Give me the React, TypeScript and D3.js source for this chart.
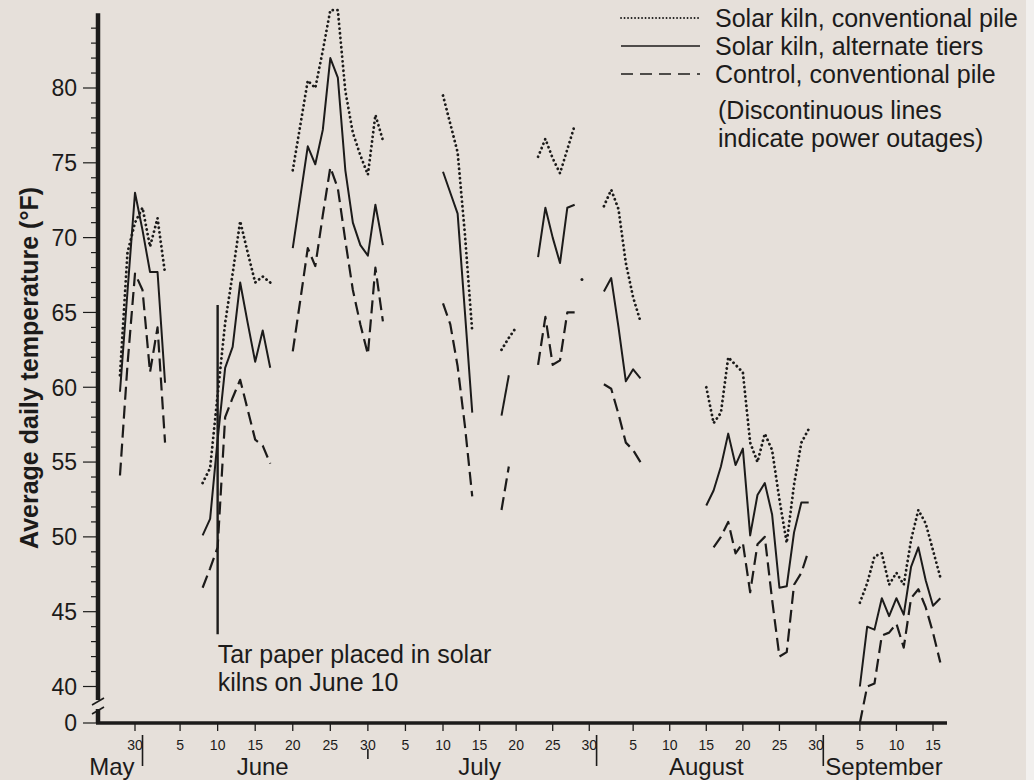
import React from 'react';
import * as d3 from 'd3';

const YEAR = 1979;

// each run = [first day "MM-DD", one value per day]; a new run starts after a power outage
const convPile: [string, number[]][] = [
    ['05-28', [60.8, 69.0, 71.0, 72.0, 69.4, 71.3, 67.6]],
    ['06-08', [53.6, 54.6, 59.5, 64.3, 67.6, 71.1, 69.0, 67.0, 67.4, 67.0]],
    ['06-20', [74.5, 77.5, 80.5, 80.0, 82.5, 85.2, 85.2, 79.8, 77.0, 75.5, 74.2, 78.2, 76.5]],
    ['07-10', [79.5, 77.6, 75.7, 70.2, 63.7]],
    ['07-18', [62.5, 63.3, 64.0]],
    ['07-23', [75.4, 76.6, 75.3, 74.3, 75.9, 77.5]],
    ['07-29', [67.2]],
    ['08-01', [72.1, 73.2, 71.9, 68.3, 66.0, 64.4]],
    ['08-15', [60.0, 57.6, 58.3, 62.0, 61.5, 61.0, 56.3, 55.0, 56.9, 55.8, 52.5, 49.6, 53.5, 56.3, 57.2]],
    ['09-05', [45.6, 46.9, 48.7, 48.9, 46.8, 47.6, 46.8, 49.8, 51.8, 50.9, 49.1, 47.3]],
];

const altTiers: [string, number[]][] = [
    ['05-28', [59.7, 66.4, 73.0, 70.5, 67.7, 67.7, 60.3]],
    ['06-08', [50.1, 51.2, 56.5, 61.3, 62.7, 67.0, 64.3, 61.7, 63.8, 61.3]],
    ['06-20', [69.3, 72.7, 76.1, 74.9, 77.2, 82.0, 80.7, 74.5, 71.0, 69.5, 68.8, 72.2, 69.5]],
    ['07-10', [74.4, 73.0, 71.6, 65.0, 58.3]],
    ['07-18', [58.1, 60.8]],
    ['07-23', [68.7, 72.0, 70.0, 68.3, 72.0, 72.2]],
    ['08-01', [66.4, 67.3, 64.0, 60.4, 61.2, 60.6]],
    ['08-15', [52.1, 53.1, 54.7, 56.9, 54.8, 55.9, 50.1, 52.8, 53.6, 51.5, 46.6, 46.7, 50.3, 52.3, 52.3]],
    ['09-05', [40.0, 44.0, 43.8, 45.9, 44.7, 45.9, 44.8, 48.0, 49.3, 47.1, 45.4, 45.9]],
];

const controlPile: [string, number[]][] = [
    ['05-28', [54.1, 61.5, 67.6, 66.5, 61.0, 64.0, 56.3]],
    ['06-08', [46.6, 47.9, 49.3, 58.0, 59.3, 60.5, 58.5, 56.5, 56.1, 54.9]],
    ['06-20', [62.4, 65.8, 69.3, 68.1, 71.5, 74.7, 73.3, 69.8, 66.5, 64.2, 62.2, 68.0, 64.4]],
    ['07-10', [65.6, 64.2, 61.4, 57.4, 52.7]],
    ['07-18', [51.8, 54.7]],
    ['07-23', [61.5, 64.7, 61.5, 61.8, 65.0, 65.0]],
    ['08-01', [60.2, 59.9, 58.2, 56.3, 55.8, 55.0]],
    ['08-16', [49.3, 50.0, 51.0, 48.9, 49.6, 46.3, 49.5, 50.0, 45.8, 42.0, 42.3, 46.8, 47.6, 49.1]],
    ['09-05', [0, 40.0, 40.2, 43.4, 43.6, 44.2, 42.6, 45.9, 46.5, 45.3, 43.6, 41.6]],
];

const seriesNames = [
    'Solar kiln, conventional pile',
    'Solar kiln, alternate tiers',
    'Control, conventional pile',
];
const noteLines = ['(Discontinuous lines', 'indicate power outages)'];
const tarNote = ['Tar paper placed in solar', 'kilns on June 10'];
const tarDay = '06-10';
const tarRange = [43.5, 65.5];

const yTicks = [40, 45, 50, 55, 60, 65, 70, 75, 80];
const dayTicks = [
    '05-30',
    '06-05', '06-10', '06-15', '06-20', '06-25', '06-30',
    '07-05', '07-10', '07-15', '07-20', '07-25', '07-30',
    '08-05', '08-10', '08-15', '08-20', '08-25', '08-30',
    '09-05', '09-10', '09-15',
];
const monthNames = ['May', 'June', 'July', 'August', 'September'];
const monthAt = ['05-31', '06-16', '07-15', '08-15', '08-31'];
const monthEnds = ['05-31', '06-30', '07-31', '08-31'];

const day = (s: string) => new Date(Date.UTC(YEAR, +s.slice(0, 2) - 1, +s.slice(3)));

const W = 1034;
const H = 780;
const ink = '#1c1b1a';
const font = '"Liberation Sans", Arial, Helvetica, sans-serif';

const x = d3.scaleUtc()
    .domain([day('05-30'), day('07-10'), day('09-15')])
    .range([135, 443, 933]);

// broken axis: 0 sits just under 40
const y = d3.scaleLinear().domain([0, 40, 80]).range([723, 686.5, 88]);

type P = { date: Date; v: number };

const toPoints = (run: [string, number[]]): P[] =>
    run[1].map((v, i) => ({ date: d3.utcDay.offset(day(run[0]), i), v }));

const line = d3.line<P>().x(p => x(p.date)).y(p => y(p.v));

const styles = [
    { dash: '0.1 4.6', width: 2.8, cap: 'round' },
    { dash: undefined, width: 2, cap: 'butt' },
    { dash: '13 6', width: 2.2, cap: 'butt' },
];

const allSeries = [convPile, altTiers, controlPile];

const App = () => {
    const axisX = 98;
    const axisY = y(0);
    const fmt = d3.utcFormat('%-d');
    const minor = d3.range(40, 85);

    return (
        <svg width={W} height={H} style={{ position: 'absolute', left: 0, top: 0 }} fontFamily={font}>
            <rect width={W} height={H} fill="#e6e0da" />
            <rect x={1026} width={W - 1026} height={H} fill="#f2f0ee" />

            {/* series */}
            {allSeries.map((runs, si) => (
                <g key={si} fill="none" stroke={ink} strokeLinejoin="round">
                    {runs.map((run, ri) => {
                        const pts = toPoints(run);
                        if (pts.length === 1) {
                            return <circle key={ri} cx={x(pts[0].date)} cy={y(pts[0].v)} r={1.5} fill={ink} stroke="none" />;
                        }
                        return (
                            <path key={ri} d={line(pts) || ''}
                                strokeWidth={styles[si].width}
                                strokeDasharray={styles[si].dash}
                                strokeLinecap={styles[si].cap as any} />
                        );
                    })}
                </g>
            ))}

            {/* tar paper marker */}
            <line x1={x(day(tarDay))} x2={x(day(tarDay))} y1={y(tarRange[1])} y2={y(tarRange[0])}
                stroke={ink} strokeWidth={2.4} />
            {tarNote.map((t, i) => (
                <text key={t} x={x(day(tarDay))} y={663 + i * 28} fontSize={25} fill={ink}>{t}</text>
            ))}

            {/* y axis */}
            <line x1={axisX} x2={axisX} y1={y(85)} y2={700} stroke={ink} strokeWidth={4.5} />
            <line x1={axisX} x2={axisX} y1={709} y2={axisY} stroke={ink} strokeWidth={4.5} />
            <line x1={92} x2={104} y1={705} y2={698} stroke={ink} strokeWidth={1.6} />
            <line x1={92} x2={104} y1={714} y2={707} stroke={ink} strokeWidth={1.6} />
            {minor.map(v => (
                <line key={v} x1={v % 5 === 0 ? 83 : 91} x2={axisX} y1={y(v)} y2={y(v)} stroke={ink} strokeWidth={1.2} />
            ))}
            <line x1={83} x2={axisX} y1={axisY} y2={axisY} stroke={ink} strokeWidth={1.2} />
            {[0, ...yTicks].map(v => (
                <text key={v} x={77} y={y(v)} dy="0.36em" textAnchor="end" fontSize={23} fill={ink}>{v}</text>
            ))}
            <text transform={`translate(38, ${368}) rotate(-90)`} textAnchor="middle" fontSize={25}
                fontWeight="bold" fill={ink}>Average daily temperature (°F)</text>

            {/* x axis */}
            <line x1={96} x2={947} y1={axisY} y2={axisY} stroke={ink} strokeWidth={3.5} />
            {dayTicks.map(d => (
                <g key={d} transform={`translate(${x(day(d))}, 0)`}>
                    <line y1={axisY} y2={axisY + 8} stroke={ink} strokeWidth={1.3} />
                    <text y={axisY + 27} textAnchor="middle" fontSize={14} fill={ink}>{fmt(day(d))}</text>
                </g>
            ))}
            {monthEnds.map(d => (
                <line key={d} x1={x(day(d))} x2={x(day(d))}
                    y1={d === '06-30' ? axisY + 26 : axisY + 12} y2={d === '06-30' ? axisY + 36 : axisY + 43}
                    stroke={ink} strokeWidth={1.6} />
            ))}
            {monthNames.map((m, i) => (
                <text key={m}
                    x={x(day(monthAt[i])) + (i === 0 ? -8 : i === 4 ? 2 : 0)}
                    y={775}
                    textAnchor={i === 0 ? 'end' : i === 4 ? 'start' : 'middle'}
                    fontSize={24} fill={ink}>{m}</text>
            ))}

            {/* legend */}
            {seriesNames.map((n, i) => (
                <g key={n} transform={`translate(0, ${27 + i * 28})`}>
                    <line x1={621} x2={700} y1={-9} y2={-9} stroke={ink}
                        strokeWidth={i === 0 ? 1.8 : 1.6}
                        strokeDasharray={i === 0 ? '0.1 3.4' : i === 2 ? '12 7' : undefined}
                        strokeLinecap={i === 0 ? 'round' : 'butt'} />
                    <text x={715} fontSize={25} fill={ink}>{n}</text>
                </g>
            ))}
            {noteLines.map((t, i) => (
                <text key={t} x={718} y={119 + i * 28} fontSize={25} fill={ink}>{t}</text>
            ))}
        </svg>
    );
};

export default App;
